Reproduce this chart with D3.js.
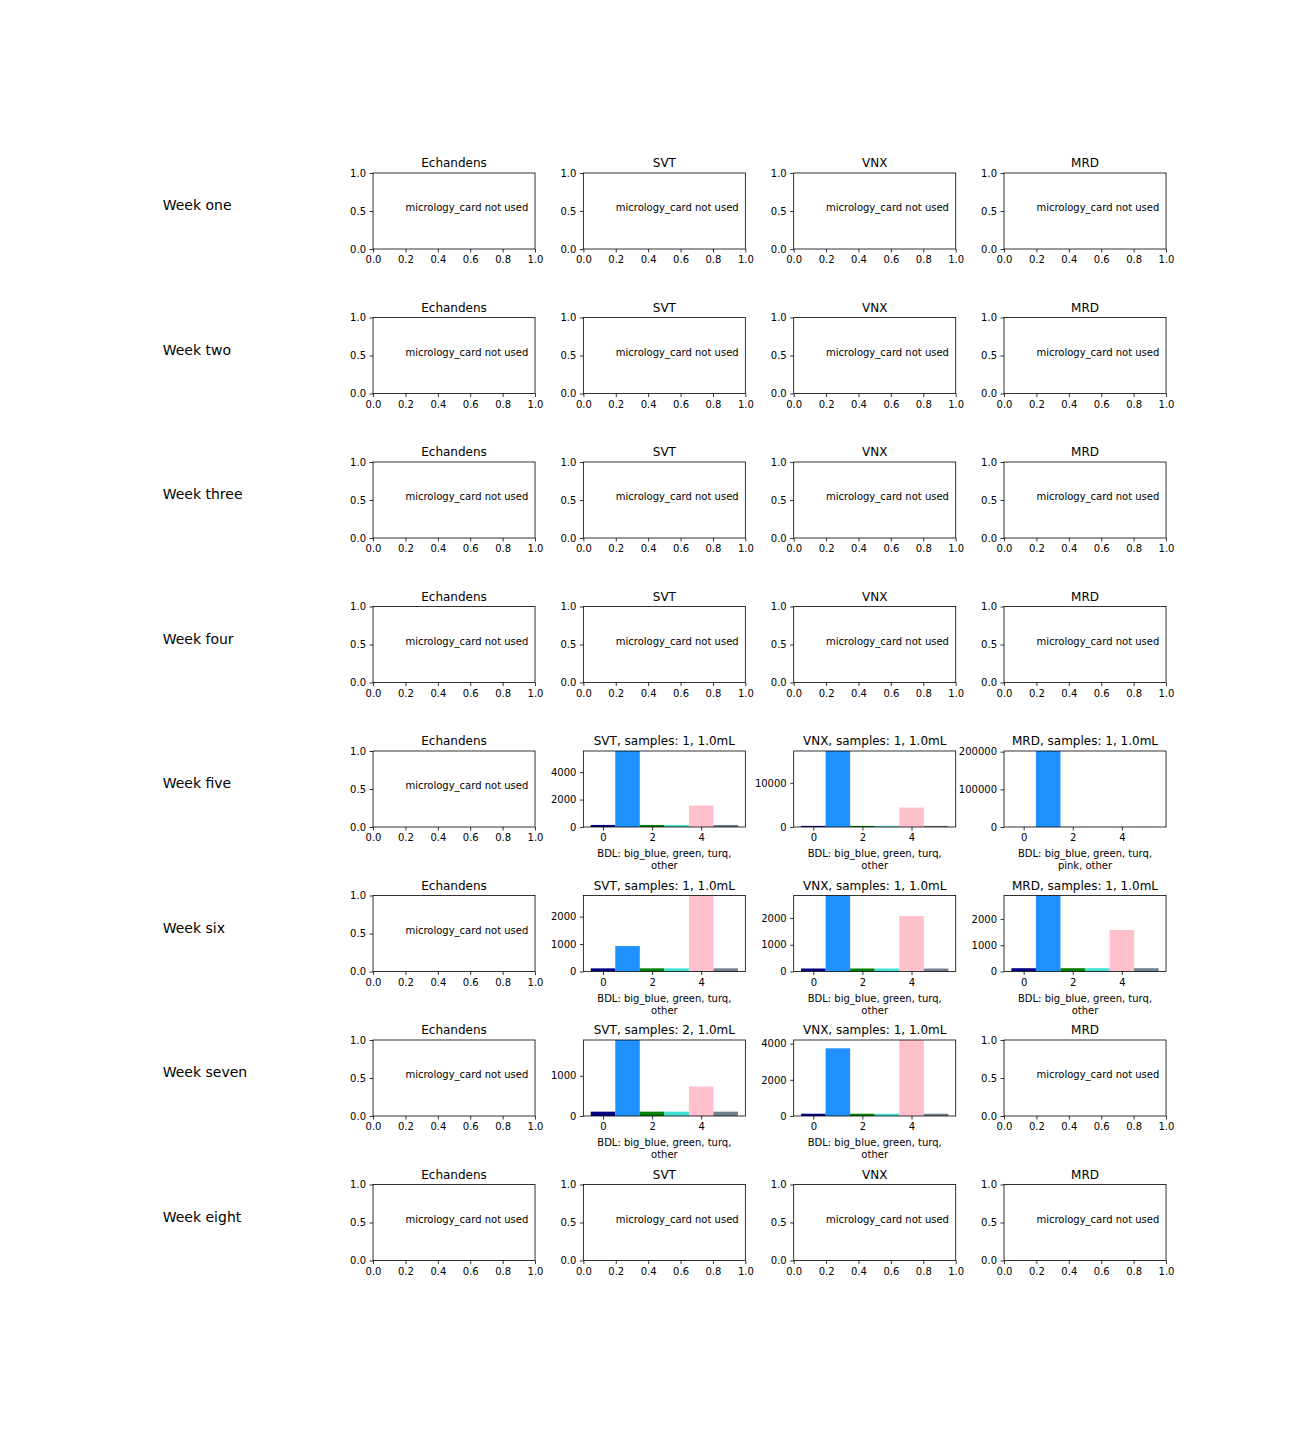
<!DOCTYPE html>
<html>
<head>
<meta charset="utf-8">
<script src="https://cdn.jsdelivr.net/npm/d3@7"></script>
<style>
  body { margin: 0; background: #fff; }
  svg { display: block; font-family: "DejaVu Sans", sans-serif; }
</style>
</head>
<body>
<svg id="chart" width="1296" height="1440"></svg>
<script>
// ---------- data ----------
const weeks = ["Week one", "Week two", "Week three", "Week four", "Week five", "Week six", "Week seven", "Week eight"];
const sites = ["Echandens", "SVT", "VNX", "MRD"];
const binPositions = [0, 1, 2, 3, 4, 5];
const binColors = ["navy", "dodgerblue", "green", "turquoise", "pink", "slategray"];
const emptyXTicks = [0.0, 0.2, 0.4, 0.6, 0.8, 1.0];
const emptyYTicks = [0.0, 0.5, 1.0];
const barXTicks = [0, 2, 4];
const notUsedText = "micrology_card not used";

// bar values per used panel (bins 0..5)
const w5SVT = [150, 5600, 150, 150, 1560, 150];
const w5VNX = [250, 17300, 250, 250, 4390, 250];
const w5MRD = [120, 202000, 120, 120, 120, 120];
const w6SVT = [115, 927, 115, 115, 2800, 115];
const w6VNX = [112, 2900, 112, 112, 2075, 112];
const w6MRD = [125, 2950, 125, 125, 1580, 125];
const w7SVT = [108, 1950, 108, 108, 733, 108];
const w7VNX = [125, 3740, 125, 125, 4250, 125];

// axis upper limits & tick labels per used panel
const w5SVTyMax = 5540, w5SVTyTicks = [0, 2000, 4000];
const w5VNXyMax = 17200, w5VNXyTicks = [0, 10000];
const w5MRDyMax = 201800, w5MRDyTicks = [0, 100000, 200000];
const w6SVTyMax = 2770, w6SVTyTicks = [0, 1000, 2000];
const w6VNXyMax = 2840, w6VNXyTicks = [0, 1000, 2000];
const w6MRDyMax = 2890, w6MRDyTicks = [0, 1000, 2000];
const w7SVTyMax = 1890, w7SVTyTicks = [0, 1000];
const w7VNXyMax = 4200, w7VNXyTicks = [0, 2000, 4000];

const bdlStd = ["BDL: big_blue, green, turq,", "other"];
const bdlPink = ["BDL: big_blue, green, turq,", "pink, other"];

const usedPanels = [
  { week: 4, site: 1, samples: 1, vol: "1.0mL", values: w5SVT, yMax: w5SVTyMax, yTicks: w5SVTyTicks, bdl: bdlStd },
  { week: 4, site: 2, samples: 1, vol: "1.0mL", values: w5VNX, yMax: w5VNXyMax, yTicks: w5VNXyTicks, bdl: bdlStd },
  { week: 4, site: 3, samples: 1, vol: "1.0mL", values: w5MRD, yMax: w5MRDyMax, yTicks: w5MRDyTicks, bdl: bdlPink },
  { week: 5, site: 1, samples: 1, vol: "1.0mL", values: w6SVT, yMax: w6SVTyMax, yTicks: w6SVTyTicks, bdl: bdlStd },
  { week: 5, site: 2, samples: 1, vol: "1.0mL", values: w6VNX, yMax: w6VNXyMax, yTicks: w6VNXyTicks, bdl: bdlStd },
  { week: 5, site: 3, samples: 1, vol: "1.0mL", values: w6MRD, yMax: w6MRDyMax, yTicks: w6MRDyTicks, bdl: bdlStd },
  { week: 6, site: 1, samples: 2, vol: "1.0mL", values: w7SVT, yMax: w7SVTyMax, yTicks: w7SVTyTicks, bdl: bdlStd },
  { week: 6, site: 2, samples: 1, vol: "1.0mL", values: w7VNX, yMax: w7VNXyMax, yTicks: w7VNXyTicks, bdl: bdlStd },
];

// ---------- layout ----------
const gridLeft = 162.7, colStep = 210.33;
const rowTop0 = 173, rowStep = 144.5;
const panelW = 162, panelH = 76;

const svg = d3.select("#chart");
let clipId = 0;

function drawAxes(g, x, y, xTicks, yTicks, xFmt, yFmt) {
  const xa = d3.axisBottom(x).tickValues(xTicks).tickSize(3.5).tickPadding(3.5).tickFormat(xFmt);
  const ya = d3.axisLeft(y).tickValues(yTicks).tickSize(3.5).tickPadding(3.5).tickFormat(yFmt);
  const gx = g.append("g").attr("transform", `translate(0,${panelH})`).call(xa);
  const gy = g.append("g").call(ya);
  [gx, gy].forEach(a => {
    a.select(".domain").remove();
    a.selectAll(".tick line").attr("stroke", "#000").attr("stroke-width", 0.8);
    a.selectAll(".tick text").attr("fill", "#000").attr("font-size", 10)
      .attr("font-family", "DejaVu Sans, sans-serif");
  });
  g.append("rect").attr("x", 0).attr("y", 0).attr("width", panelW).attr("height", panelH)
    .attr("fill", "none").attr("stroke", "#000").attr("stroke-width", 0.8);
}

// row labels
weeks.forEach((w, r) => {
  svg.append("text")
    .attr("x", gridLeft)
    .attr("y", rowTop0 + r * rowStep + panelH / 2 - 1)
    .attr("font-size", 14)
    .attr("fill", "#000")
    .text(w);
});

weeks.forEach((w, r) => {
  sites.forEach((s, c) => {
    const px = gridLeft + (c + 1) * colStep;
    const py = rowTop0 + r * rowStep;
    const g = svg.append("g").attr("transform", `translate(${px},${py})`);
    const used = usedPanels.find(p => p.week === r && p.site === c);
    if (!used) {
      const x = d3.scaleLinear().domain([0, 1]).range([0, panelW]);
      const y = d3.scaleLinear().domain([0, 1]).range([panelH, 0]);
      g.append("text").attr("x", x(0.2)).attr("y", y(0.5))
        .attr("font-size", 10).attr("fill", "#000").text(notUsedText);
      drawAxes(g, x, y, emptyXTicks, emptyYTicks, d3.format(".1f"), d3.format(".1f"));
      g.append("text").attr("x", panelW / 2).attr("y", -6).attr("text-anchor", "middle")
        .attr("font-size", 12).attr("fill", "#000").text(s);
    } else {
      const x = d3.scaleLinear().domain([-0.8, 5.8]).range([0, panelW]);
      const y = d3.scaleLinear().domain([0, used.yMax]).range([panelH, 0]);
      const id = "clip" + (clipId++);
      g.append("clipPath").attr("id", id).append("rect")
        .attr("x", 0).attr("y", 0).attr("width", panelW).attr("height", panelH);
      g.append("g").attr("clip-path", `url(#${id})`)
        .selectAll("rect").data(used.values).join("rect")
        .attr("x", (d, i) => x(binPositions[i] - 0.5))
        .attr("width", (d, i) => x(binPositions[i] + 0.5) - x(binPositions[i] - 0.5))
        .attr("y", d => y(d))
        .attr("height", d => y(0) - y(d))
        .attr("fill", (d, i) => binColors[i]);
      drawAxes(g, x, y, barXTicks, used.yTicks, d3.format("d"), d3.format("d"));
      g.append("text").attr("x", panelW / 2).attr("y", -6).attr("text-anchor", "middle")
        .attr("font-size", 12).attr("fill", "#000")
        .text(`${s}, samples: ${used.samples}, ${used.vol}`);
      used.bdl.forEach((line, k) => {
        g.append("text").attr("x", panelW / 2).attr("y", panelH + 30 + k * 12)
          .attr("text-anchor", "middle").attr("font-size", 10).attr("fill", "#000").text(line);
      });
    }
  });
});
</script>
</body>
</html>
